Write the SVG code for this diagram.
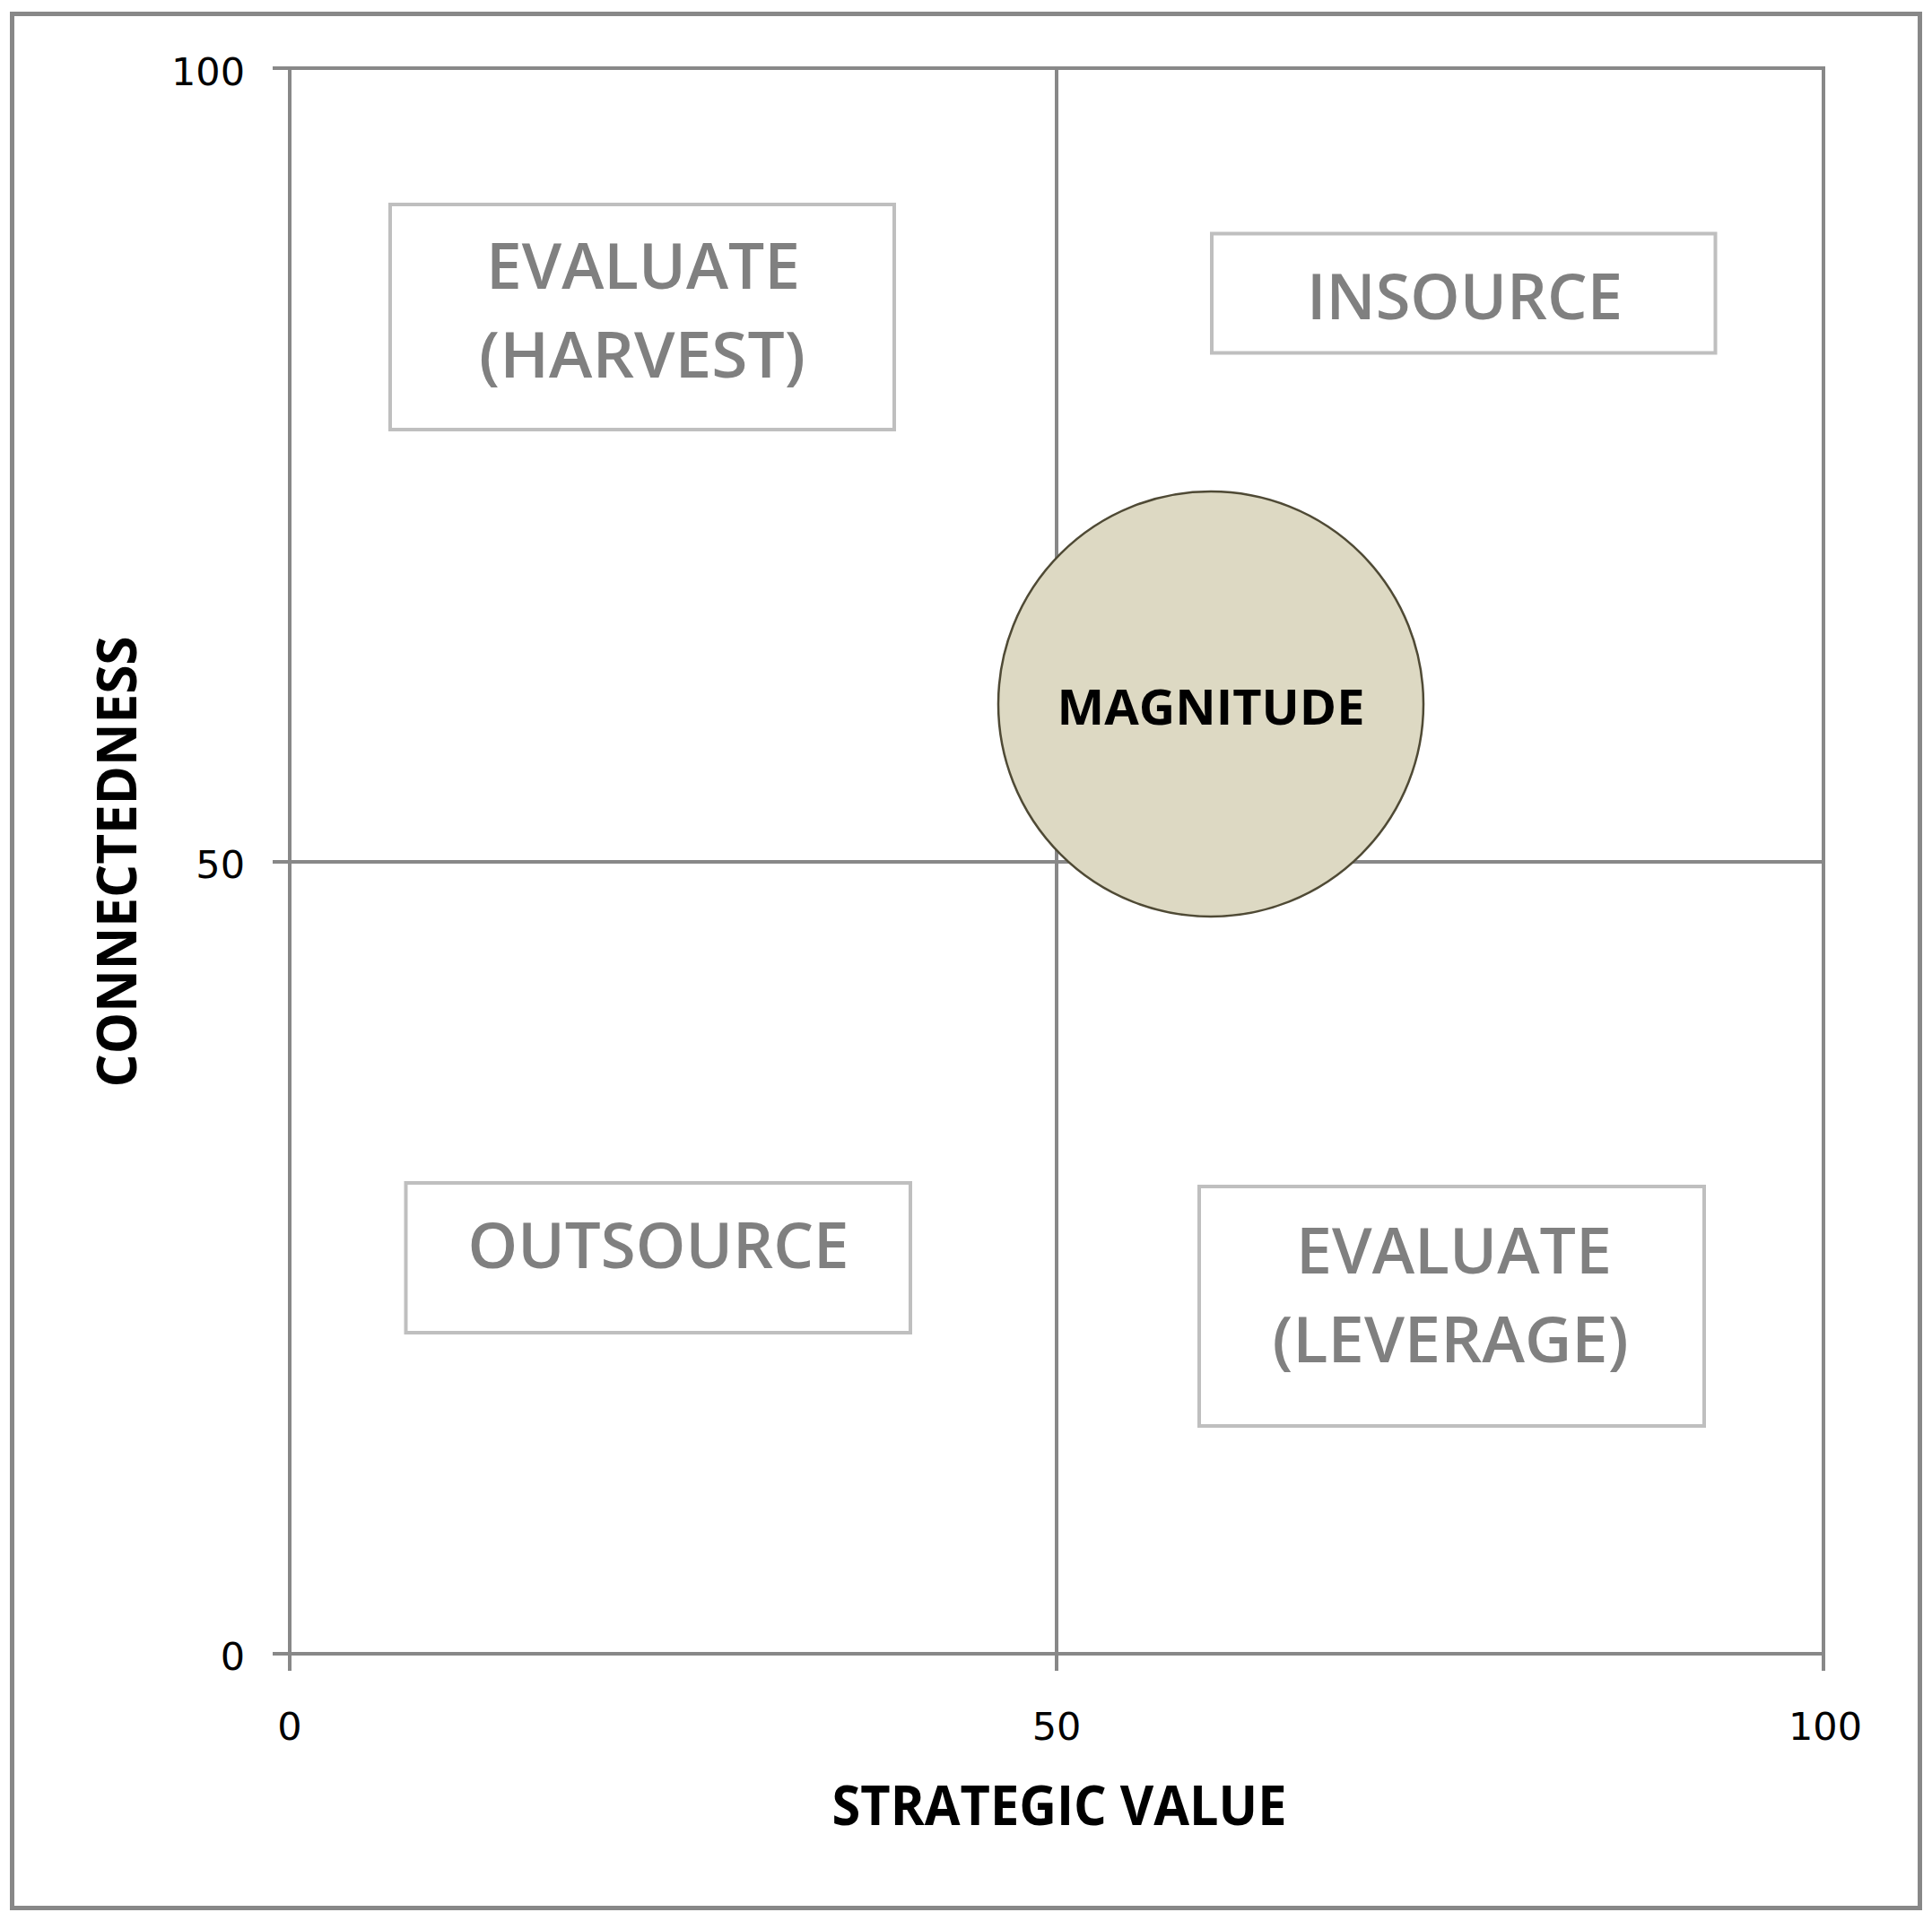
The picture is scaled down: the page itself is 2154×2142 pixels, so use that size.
<svg xmlns="http://www.w3.org/2000/svg" width="2154" height="2142" viewBox="0 0 2154 2142">
<style>
.frame{fill:none;stroke:#888888;stroke-width:4}
.grid{fill:none;stroke:#888888;stroke-width:4}
.box{fill:#ffffff;stroke:#bfbfbf;stroke-width:4}
.lbl{font-family:"Open Sans","Liberation Sans",sans-serif;font-weight:600;fill:#808080;font-size:70px;text-anchor:middle}
.tick{font-family:"DejaVu Sans","Liberation Sans",sans-serif;font-size:43px;fill:#000000}
.title{font-family:"Open Sans","Liberation Sans",sans-serif;font-weight:bold;font-size:61px;fill:#000000;text-anchor:middle}
.bubble{fill:#ddd9c3;stroke:#4f4a35;stroke-width:2.5}
.bubtxt{font-family:"Open Sans","Liberation Sans",sans-serif;font-weight:bold;font-size:53px;fill:#000000;text-anchor:middle}
</style>
<rect x="0" y="0" width="2154" height="2142" fill="#ffffff"/>
<rect x="13.5" y="15.5" width="2127" height="2112" fill="none" stroke="#888888" stroke-width="5"/>
<g id="axes">
  <rect class="frame" x="323" y="76" width="1710" height="1768"/>
  <path class="grid" d="M1178 76V1844 M323 961H2033"/>
  <path class="grid" d="M304 76H323 M304 961H323 M304 1844H323 M323 1844V1863 M1178 1844V1863 M2033 1844V1863"/>
  <text class="tick" x="273" y="95" text-anchor="end">100</text>
  <text class="tick" x="273" y="979" text-anchor="end">50</text>
  <text class="tick" x="273" y="1862" text-anchor="end">0</text>
  <text class="tick" x="323" y="1940" text-anchor="middle">0</text>
  <text class="tick" x="1178" y="1940" text-anchor="middle">50</text>
  <text class="tick" x="2035" y="1940" text-anchor="middle">100</text>
  <text class="title" x="1181" y="2035" textLength="507" lengthAdjust="spacingAndGlyphs">STRATEGIC VALUE</text>
  <text class="title" transform="translate(152 961) rotate(-90)" x="0" y="0" textLength="503" lengthAdjust="spacingAndGlyphs">CONNECTEDNESS</text>
</g>
<g id="connectors"></g>
<g id="evaluate-harvest">
  <rect class="box" x="435" y="228" width="562" height="251"/>
  <text class="lbl" x="717" y="322" textLength="350" lengthAdjust="spacingAndGlyphs">EVALUATE</text>
  <text class="lbl" x="716" y="421" textLength="364" lengthAdjust="spacingAndGlyphs">(HARVEST)</text>
</g>
<g id="insource">
  <rect class="box" x="1351" y="260.5" width="561.5" height="133"/>
  <text class="lbl" x="1633" y="356" textLength="352" lengthAdjust="spacingAndGlyphs">INSOURCE</text>
</g>
<g id="outsource">
  <rect class="box" x="452.5" y="1319" width="562.5" height="167"/>
  <text class="lbl" x="734" y="1414" textLength="425" lengthAdjust="spacingAndGlyphs">OUTSOURCE</text>
</g>
<g id="evaluate-leverage">
  <rect class="box" x="1337" y="1323" width="563" height="267"/>
  <text class="lbl" x="1621" y="1420" textLength="352" lengthAdjust="spacingAndGlyphs">EVALUATE</text>
  <text class="lbl" x="1617" y="1519" textLength="397" lengthAdjust="spacingAndGlyphs">(LEVERAGE)</text>
</g>
<g id="magnitude">
  <circle class="bubble" cx="1350" cy="785" r="237"/>
  <text class="bubtxt" x="1350" y="808" textLength="343" lengthAdjust="spacingAndGlyphs">MAGNITUDE</text>
</g>
</svg>
